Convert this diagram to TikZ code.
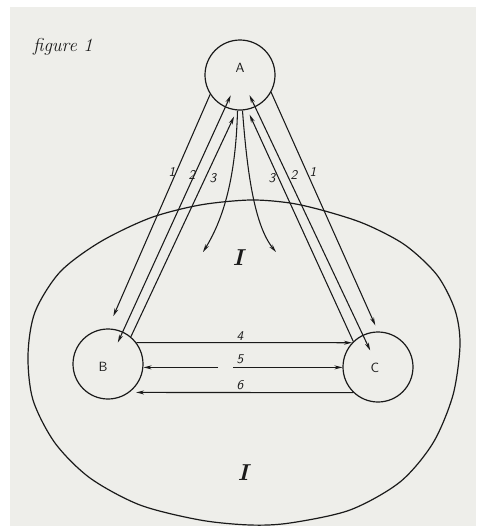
\documentclass[tikz,border=0pt]{standalone}
\usepackage{tikz}
\usetikzlibrary{arrows.meta,calc}
\definecolor{paper}{HTML}{EEEEEA}
\definecolor{ink}{HTML}{1A1A1A}
\tikzset{
  ring/.style={circle,draw=ink,line width=0.9pt,minimum size=52.5pt,inner sep=0pt},
  letter/.style={font=\sffamily,text=ink},
  arr/.style={-{Stealth[length=6pt,width=3pt]},line width=0.8pt,draw=ink},
  darr/.style={{Stealth[length=6pt,width=3pt]}-{Stealth[length=6pt,width=3pt]},line width=0.8pt,draw=ink},
  num/.style={font=\sffamily\itshape,text=ink},
  zone/.style={font=\LARGE\bfseries\itshape,text=ink},
}

\begin{document}
\begin{tikzpicture}[x=0.75pt,y=-0.75pt]
  \useasboundingbox (0,0) rectangle (476,526);
  \fill[paper] (10,7) rectangle (476,526);

  \node[font=\fontsize{14}{16}\selectfont\itshape,text=ink] (fig) at (63,47) {figure 1};

  % the outer field
  \draw[line width=0.9pt,draw=ink] plot[smooth cycle] coordinates {
    (250,200) (290,203) (325,211) (365,224) (405,245) (437,275) (455,310)
    (460,345) (453,395) (433,443) (400,482) (350,510) (290,523) (250,525)
    (200,520) (140,505) (90,478) (55,443) (33,400) (28,355) (35,312)
    (60,272) (100,242) (150,218) (200,205)};

  \node[ring] (A) at (240,75) {};
  \node[ring] (B) at (108,364) {};
  \node[ring] (C) at (378,367) {};
  \node[letter] (la) at (240,68) {A};
  \node[letter] (lb) at (103,367) {B};
  \node[letter] (lc) at (375,368) {C};

  % A to B
  \draw[arr,shorten >=10pt] (A.213) -- (B.north);
  \draw[darr,shorten <=-9pt,shorten >=-10pt] (B) -- (A);
  \draw[arr,shorten >=5pt] (B.50) -- (A.265);
  % A to C
  \draw[arr,shorten >=5pt] (A.331) -- (C.north);
  \draw[darr,shorten <=-13pt,shorten >=-10pt] (C) -- (A);
  \draw[arr,shorten >=4pt] (C.134) -- (A.282);

  % into the field
  \coordinate (m1) at (203,252);
  \coordinate (m2) at (276,252);
  \draw[arr] (A.266) .. controls (236,170) and (226,215) .. (m1);
  \draw[arr] (A.274) .. controls (247,170) and (254,225) .. (m2);

  \node[num] (n1l) at (172,172) {1};
  \node[num] (n2l) at (192,175) {2};
  \node[num] (n3l) at (213,178) {3};
  \node[num] (n3r) at (272,178) {3};
  \node[num] (n2r) at (294,175) {2};
  \node[num] (n1r) at (313,172) {1};

  % B and C
  \draw[arr] (B.37) -- (C.137);
  \coordinate (g1) at (218,367.4);
  \coordinate (g2) at (233,367.4);
  \draw[arr] (g1) -- (g1 -| B.east);
  \draw[arr] (g2) -- (g2 -| C.west);
  \draw[arr,shorten >=5pt] (C.226) -- (B.-53);
  \node[num] (n4) at (240,336) {4};
  \node[num] (n5) at (240,359) {5};
  \node[num] (n6) at (240,385) {6};

  \node[zone] (z1) at (238,258) {I};
  \node[zone] (z2) at (243,473) {I};
\end{tikzpicture}
\end{document}
